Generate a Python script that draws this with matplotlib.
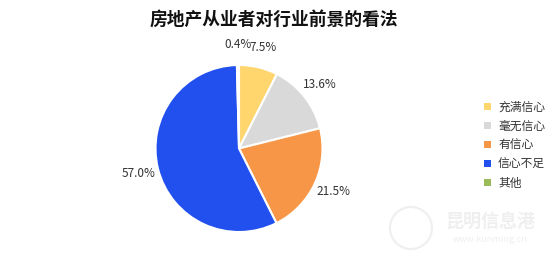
import matplotlib
matplotlib.use("Agg")
import matplotlib.pyplot as plt
from matplotlib.patches import Patch, Circle
from matplotlib.transforms import IdentityTransform

plt.rcParams["font.family"] = ["Noto Sans CJK SC", "DejaVu Sans"]

# pie order, clockwise from 12 o'clock
categories = ["充满信心", "毫无信心", "有信心", "信心不足", "其他"]
values = [7.5, 13.6, 21.5, 57.0, 0.4]
colors = ["#FFD56E", "#D9D9D9", "#F79646", "#2150EE", "#9BBB59"]
title = "房地产从业者对行业前景的看法"

W, H = 554, 259
fig = plt.figure(figsize=(W / 100, H / 100), dpi=100, facecolor="white")

# pie axes: centre (239,148) px, radius ~83.5 px
cx, cy, r = 239, 148.5, 83.5
ax = fig.add_axes([(cx - r) / W, (H - cy - r) / H, 2 * r / W, 2 * r / H])
wedges, texts = ax.pie(
    values,
    colors=colors,
    startangle=90,
    counterclock=False,
    labels=[f"{v:.1f}%" for v in values],
    labeldistance=1.24,
    wedgeprops=dict(edgecolor="white", linewidth=1.5),
    textprops=dict(fontsize=8.5, color="#333333"),
)
for t in texts:
    t.set_ha("center")
    t.set_va("center")
ax.set_xlim(-1, 1)
ax.set_ylim(-1, 1)
ax.set_aspect("equal")

fig.text(274 / W, 1 - 20 / H, title, ha="center", va="center",
         fontsize=12.8, fontweight="heavy", color="#111111")

handles = [Patch(facecolor=c, edgecolor="none") for c in colors]
leg = fig.legend(handles, categories, loc="upper left",
                 bbox_to_anchor=(478 / W, 1 - 95 / H), frameon=False,
                 fontsize=8.5, handlelength=0.6, handleheight=0.6,
                 handletextpad=0.6, labelspacing=0.5, borderpad=0)
for t in leg.get_texts():
    t.set_color("#333333")

# faint watermark
wm = "#EFEFEF"
fig.patches.append(Circle((411, H - 228), 21, transform=IdentityTransform(),
                          facecolor="none", edgecolor=wm, linewidth=1.5))
fig.text(490 / W, 1 - 221 / H, "昆明信息港", ha="center", va="center",
         fontsize=13, fontweight="bold", color=wm)
fig.text(490 / W, 1 - 240 / H, "www.kunming.cn", ha="center", va="center",
         fontsize=6.5, color=wm)

fig.savefig("out.png", dpi=100)
